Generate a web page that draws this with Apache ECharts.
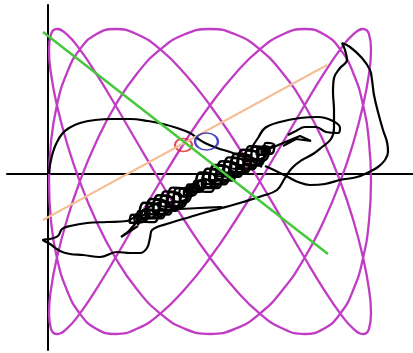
<!DOCTYPE html>
<html>
<head>
<meta charset="utf-8">
<script src="https://cdn.jsdelivr.net/npm/echarts@6/dist/echarts.min.js"></script>
<style>
  html, body { margin: 0; padding: 0; background: #ffffff; }
  #chart { width: 413px; height: 353px; }
</style>
</head>
<body>
<div id="chart"></div>
<script>
// Lissajous figure (3:5): one period of horizontal and of vertical positions
const lissajousX = [2.118, 2.351, 2.566, 2.758, 2.923, 3.055, 3.151, 3.210, 3.23, 3.210,
  3.151, 3.055, 2.923, 2.758, 2.566, 2.351, 2.118, 1.872, 1.62, 1.368,
  1.123, 0.889, 0.674, 0.482, 0.318, 0.186, 0.089, 0.030, 0.01, 0.030,
  0.089, 0.186, 0.318, 0.482, 0.674, 0.889, 1.123, 1.368, 1.62, 1.872];
const lissajousY = [-0.075, 0.32, 0.6875, 1.003, 1.246, 1.398, 1.45, 1.398, 1.246, 1.003,
  0.6875, 0.32, -0.075, -0.47, -0.8375, -1.153, -1.396, -1.548, -1.6, -1.548,
  -1.396, -1.153, -0.8375, -0.47];

// Recorded trajectory, stored as strokes
const trackUpperArc = [[0.01,0],[0.02,0.09],[0.05,0.22],[0.09,0.32],[0.14,0.40],[0.21,0.46],
  [0.32,0.51],[0.47,0.54],[0.64,0.55],[0.82,0.55],[1.00,0.53],[1.15,0.50],[1.29,0.46],
  [1.42,0.41],[1.49,0.36],[1.57,0.31],[1.69,0.26],[1.82,0.22],[2.02,0.14],[2.14,0.07]];
const trackLoop = [[1.12,-0.28],[0.99,-0.34],[0.89,-0.41],[0.79,-0.47],[0.59,-0.48],[0.39,-0.49],
  [0.22,-0.52],[0.14,-0.55],[0.10,-0.62],[0.02,-0.65],[-0.05,-0.66],[0.02,-0.70],[0.12,-0.77],
  [0.22,-0.80],[0.35,-0.81],[0.52,-0.83],[0.69,-0.78],[0.82,-0.79],[0.92,-0.79],[0.99,-0.74],
  [1.02,-0.64],[1.04,-0.56],[1.22,-0.49],[1.42,-0.43],[1.59,-0.38],[1.74,-0.34],[1.95,-0.28],
  [2.14,-0.22],[2.29,-0.16],[2.37,-0.04],[2.44,0.06],[2.54,0.14],[2.65,0.20],[2.74,0.27],
  [2.83,0.35],[2.86,0.46],[2.86,0.64],[2.85,0.82],[2.86,0.96],[2.92,1.06],[2.99,1.14],
  [2.97,1.24],[2.94,1.31],[3.02,1.27],[3.14,1.16],[3.22,1.04],[3.24,0.94],[3.26,0.79],
  [3.30,0.62],[3.35,0.44],[3.39,0.32],[3.40,0.22],[3.37,0.14],[3.30,0.07],[3.21,0.02],
  [3.09,-0.03],[2.92,-0.06],[2.77,-0.10],[2.62,-0.11],[2.50,-0.08],[2.40,-0.03],[2.28,0.03],
  [2.17,0.08]];
const trackLens = [[1.12,-0.36],[1.32,-0.35],[1.52,-0.34],[1.74,-0.33]];
const trackSpike = [[0.90,-0.52],[0.73,-0.63],[0.80,-0.58],[0.92,-0.44],[0.99,-0.38]];
const trackLobe = [[2.02,0.24],[2.10,0.36],[2.17,0.46],[2.32,0.52],[2.52,0.56],[2.70,0.57],
  [2.85,0.53],[2.92,0.46],[2.90,0.41],[2.78,0.42],[2.68,0.47],[2.57,0.47],[2.48,0.43],[2.40,0.39]];
const trackHook = [[2.14,0.22],[2.35,0.31],[2.52,0.38],[2.63,0.33],[2.48,0.35],[2.35,0.28]];
// dense tangle along the diagonal: outward coil, coil back, and a final pass
const trackCoilOut = [
  [0.898,-0.513],[0.923,-0.432],[0.842,-0.407],[0.817,-0.488],
  [0.969,-0.475],[0.994,-0.394],[0.913,-0.369],[0.888,-0.450],
  [1.063,-0.481],[1.108,-0.332],[0.959,-0.287],[0.914,-0.436],
  [1.134,-0.444],[1.179,-0.295],[1.030,-0.250],[0.985,-0.399],
  [1.204,-0.406],[1.249,-0.257],[1.100,-0.212],[1.055,-0.361],
  [1.275,-0.368],[1.320,-0.219],[1.171,-0.174],[1.126,-0.323],
  [1.345,-0.330],[1.390,-0.181],[1.241,-0.136],[1.196,-0.285],
  [1.392,-0.249],[1.417,-0.168],[1.336,-0.143],[1.311,-0.224],
  [1.462,-0.211],[1.487,-0.130],[1.406,-0.105],[1.381,-0.186],
  [1.533,-0.173],[1.558,-0.092],[1.477,-0.067],[1.452,-0.148],
  [1.627,-0.179],[1.672,-0.030],[1.523,0.015],[1.478,-0.134],
  [1.698,-0.141],[1.743,0.008],[1.594,0.053],[1.549,-0.096],
  [1.768,-0.104],[1.813,0.045],[1.664,0.090],[1.619,-0.059],
  [1.839,-0.066],[1.884,0.083],[1.735,0.128],[1.690,-0.021],
  [1.909,-0.028],[1.954,0.121],[1.805,0.166],[1.760,0.017],
  [1.980,0.010],[2.025,0.159],[1.876,0.204],[1.831,0.055],
  [2.050,0.048],[2.095,0.197],[1.946,0.242],[1.901,0.093],
  [2.121,0.085],[2.166,0.234],[2.017,0.279],[1.972,0.130],
  [2.167,0.167],[2.192,0.248],[2.111,0.273],[2.086,0.192],
  [2.238,0.205],[2.263,0.286],[2.182,0.311],[2.157,0.230],
  [2.263,0.286]];
const trackCoilBack = [
  [2.196,0.199],[2.135,0.218],[2.154,0.279],[2.215,0.260],
  [2.142,0.130],[2.033,0.163],[2.066,0.272],[2.175,0.239],
  [2.072,0.092],[1.963,0.125],[1.996,0.234],[2.105,0.201],
  [2.001,0.055],[1.892,0.088],[1.925,0.197],[2.034,0.164],
  [1.931,0.017],[1.822,0.050],[1.855,0.159],[1.964,0.126],
  [1.860,-0.021],[1.751,0.012],[1.784,0.121],[1.893,0.088],
  [1.790,-0.059],[1.681,-0.026],[1.714,0.083],[1.823,0.050],
  [1.719,-0.096],[1.610,-0.063],[1.643,0.046],[1.752,0.013],
  [1.649,-0.134],[1.540,-0.101],[1.573,0.008],[1.682,-0.025],
  [1.561,-0.141],[1.500,-0.122],[1.519,-0.061],[1.580,-0.080],
  [1.490,-0.179],[1.429,-0.160],[1.448,-0.099],[1.509,-0.118],
  [1.420,-0.217],[1.359,-0.198],[1.378,-0.137],[1.439,-0.156],
  [1.366,-0.285],[1.257,-0.252],[1.290,-0.143],[1.399,-0.176],
  [1.296,-0.323],[1.187,-0.290],[1.220,-0.181],[1.329,-0.214],
  [1.225,-0.361],[1.116,-0.328],[1.149,-0.219],[1.258,-0.252],
  [1.155,-0.399],[1.046,-0.366],[1.079,-0.257],[1.188,-0.290],
  [1.084,-0.437],[0.975,-0.404],[1.008,-0.295],[1.117,-0.328],
  [0.997,-0.443],[0.936,-0.424],[0.955,-0.363],[1.016,-0.382],
  [0.926,-0.481],[0.865,-0.462],[0.884,-0.401],[0.945,-0.420]];
const trackReturn = [[2.229,0.223],[2.120,0.255],[2.088,0.147],[1.979,0.180],[1.947,0.072],
  [1.838,0.104],[1.806,-0.004],[1.697,0.028],[1.665,-0.079],[1.556,-0.047],[1.524,-0.155],
  [1.415,-0.123],[1.383,-0.231],[1.274,-0.198],[1.242,-0.306],[1.133,-0.274],[1.101,-0.382],
  [0.992,-0.349],[0.960,-0.457],[0.851,-0.425]];

// Fitted lines and markers
const greenLine = [[-0.05,1.42],[2.80,-0.80]];
const peachLine = [[-0.05,-0.46],[2.79,1.09]];
const blueMarker = [[1.585,0.325]];
const redMarker = [[1.355,0.29]];

const lissajousPoints = [];
for (let i = 0; i <= 120; i++) {
  lissajousPoints.push([lissajousX[i % lissajousX.length], lissajousY[i % lissajousY.length]]);
}

function track(data, smooth, width) {
  return { type: 'line', data: data, showSymbol: false, smooth: smooth,
    lineStyle: { color: '#000000', width: width || 2.2 }, silent: true, z: 3 };
}

const chart = echarts.init(document.getElementById('chart'));
chart.setOption({
  animation: false,
  backgroundColor: '#ffffff',
  grid: { left: 7, right: 0, top: 5, bottom: 3 },
  xAxis: {
    type: 'value', min: -0.41, max: 3.65,
    axisLine: { onZero: true, lineStyle: { color: '#000000', width: 2 } },
    axisTick: { show: false }, axisLabel: { show: false }, splitLine: { show: false }
  },
  yAxis: {
    type: 'value', min: -1.76, max: 1.69,
    axisLine: { onZero: true, lineStyle: { color: '#000000', width: 2 } },
    axisTick: { show: false }, axisLabel: { show: false }, splitLine: { show: false }
  },
  series: [
    { type: 'line', data: lissajousPoints, showSymbol: false, smooth: 0.5,
      lineStyle: { color: '#c13cc4', width: 2.3 }, z: 2 },
    track(trackUpperArc, 0.4),
    track(trackLoop, 0.4),
    track(trackLens, 0.4),
    track(trackSpike, 0),
    track(trackLobe, 0.4),
    track(trackHook, 0),
    track(trackCoilOut, 0.6, 2.4),
    track(trackCoilBack, 0.6, 2.4),
    track(trackReturn, 0.5, 2.4),
    { type: 'scatter', data: redMarker, symbol: 'circle', symbolSize: [17, 13],
      itemStyle: { color: 'transparent', borderColor: '#dd2222', borderWidth: 2 }, z: 4 },
    { type: 'line', data: peachLine, showSymbol: false,
      lineStyle: { color: '#f4bf97', width: 2 }, z: 5 },
    { type: 'line', data: greenLine, showSymbol: false,
      lineStyle: { color: '#45c83c', width: 2.5 }, z: 6 },
    { type: 'scatter', data: blueMarker, symbol: 'circle', symbolSize: [23, 17],
      itemStyle: { color: 'transparent', borderColor: '#1c1cb0', borderWidth: 2 }, z: 7 }
  ]
});
</script>
</body>
</html>
